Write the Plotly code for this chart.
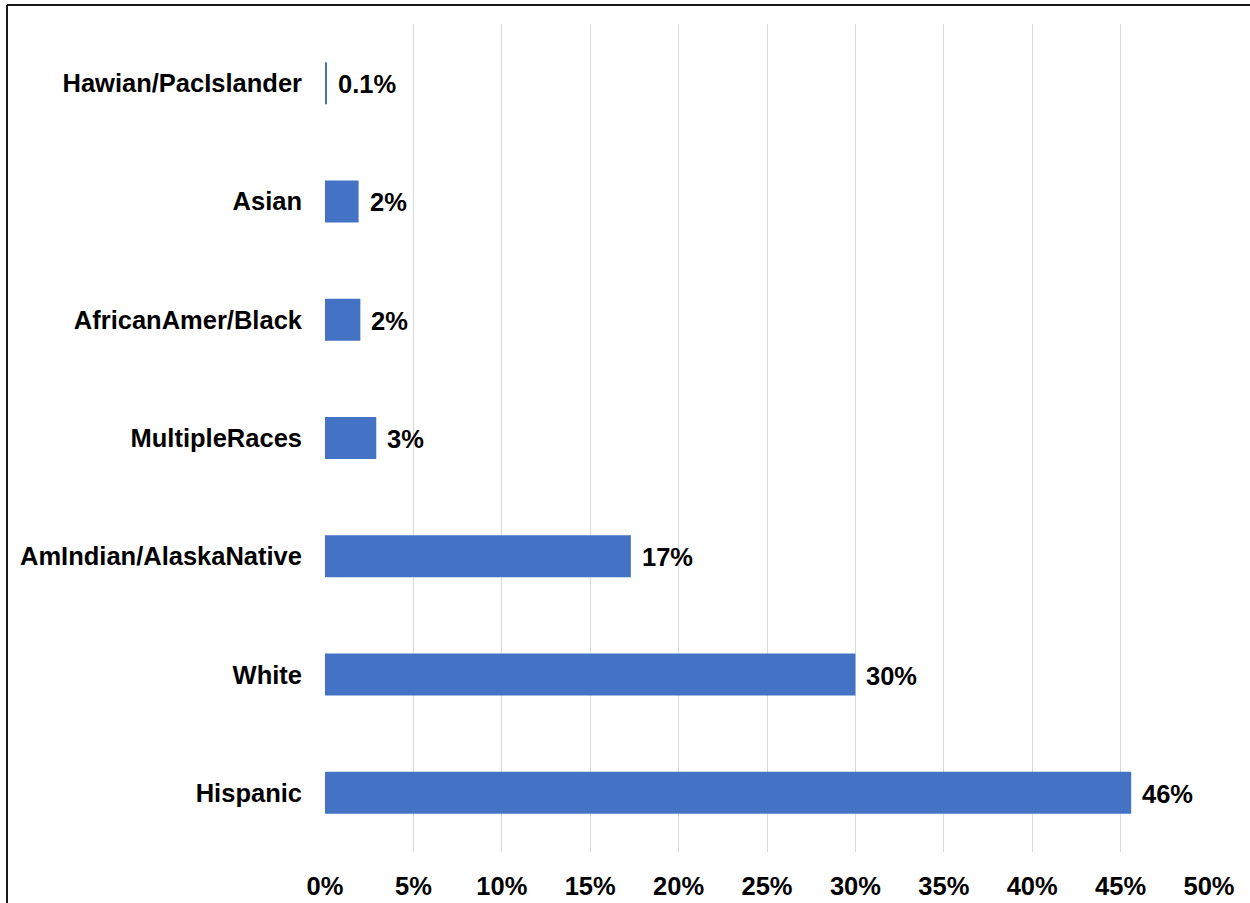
import plotly.graph_objects as go

# Share of students by race/ethnicity (percent), bottom to top
groups = [
    "Hispanic",
    "White",
    "AmIndian/AlaskaNative",
    "MultipleRaces",
    "AfricanAmer/Black",
    "Asian",
    "Hawian/PacIslander",
]
shares = [45.6, 30.0, 17.3, 2.9, 2.0, 1.9, 0.1]
x_ticks = [0, 5, 10, 15, 20, 25, 30, 35, 40, 45, 50]
x_tick_text = [f"{t}%" for t in x_ticks]


def share_label(v):
    return f"{v:.1f}%" if v < 1 else f"{round(v):.0f}%"


W, H = 1250, 903
M_L, M_R, M_T, M_B = 325, 41, 24, 51
FONT = "Liberation Sans"
FSIZE = 25.5
BAR_COLOR = "#4472C4"

fig = go.Figure(
    go.Bar(
        x=shares,
        y=groups,
        orientation="h",
        marker=dict(color=BAR_COLOR, line=dict(width=0)),
        hoverinfo="skip",
    )
)

# value labels just past the end of each bar
for g, v in zip(groups, shares):
    fig.add_annotation(
        x=v, y=g, xref="x", yref="y",
        text=share_label(v),
        showarrow=False,
        xanchor="left", yanchor="middle",
        xshift=9, yshift=-1,
        font=dict(family=FONT, size=FSIZE, color="#000000", weight="bold"),
    )

# outer frame (left and top edges), placed in pixel terms
plot_w = W - M_L - M_R
plot_h = H - M_T - M_B


def px_to_paper_x(px):
    return (px - M_L) / plot_w


def px_to_paper_y(py):
    return (H - M_B - py) / plot_h


frame_x, frame_y = 7, 5
fig.add_shape(
    type="line", xref="paper", yref="paper",
    x0=px_to_paper_x(frame_x), x1=px_to_paper_x(frame_x),
    y0=px_to_paper_y(frame_y), y1=px_to_paper_y(H + 10),
    line=dict(color="#1a1a1a", width=2),
)
fig.add_shape(
    type="line", xref="paper", yref="paper",
    x0=px_to_paper_x(frame_x), x1=px_to_paper_x(W + 10),
    y0=px_to_paper_y(frame_y), y1=px_to_paper_y(frame_y),
    line=dict(color="#1a1a1a", width=2),
)

fig.update_layout(
    width=W,
    height=H,
    margin=dict(l=M_L, r=M_R, t=M_T, b=M_B, pad=0, autoexpand=False),
    paper_bgcolor="#ffffff",
    plot_bgcolor="#ffffff",
    bargap=0.645,
    showlegend=False,
    font=dict(family=FONT, color="#000000"),
    xaxis=dict(
        range=[0, 50],
        tickvals=x_ticks,
        ticktext=x_tick_text,
        showgrid=True,
        gridcolor="#d9d9d9",
        gridwidth=1,
        zeroline=False,
        showline=False,
        ticks="",
        ticklabelstandoff=16,
        tickfont=dict(family=FONT, size=FSIZE, color="#000000", weight="bold"),
        fixedrange=True,
        automargin=False,
    ),
    yaxis=dict(
        type="category",
        categoryorder="array",
        categoryarray=groups,
        range=[-0.5, len(groups) - 0.5],
        showgrid=False,
        zeroline=False,
        showline=False,
        ticks="",
        ticklabelstandoff=22,
        tickfont=dict(family=FONT, size=FSIZE, color="#000000", weight="bold"),
        fixedrange=True,
        automargin=False,
    ),
)

fig.write_html("out.html")
